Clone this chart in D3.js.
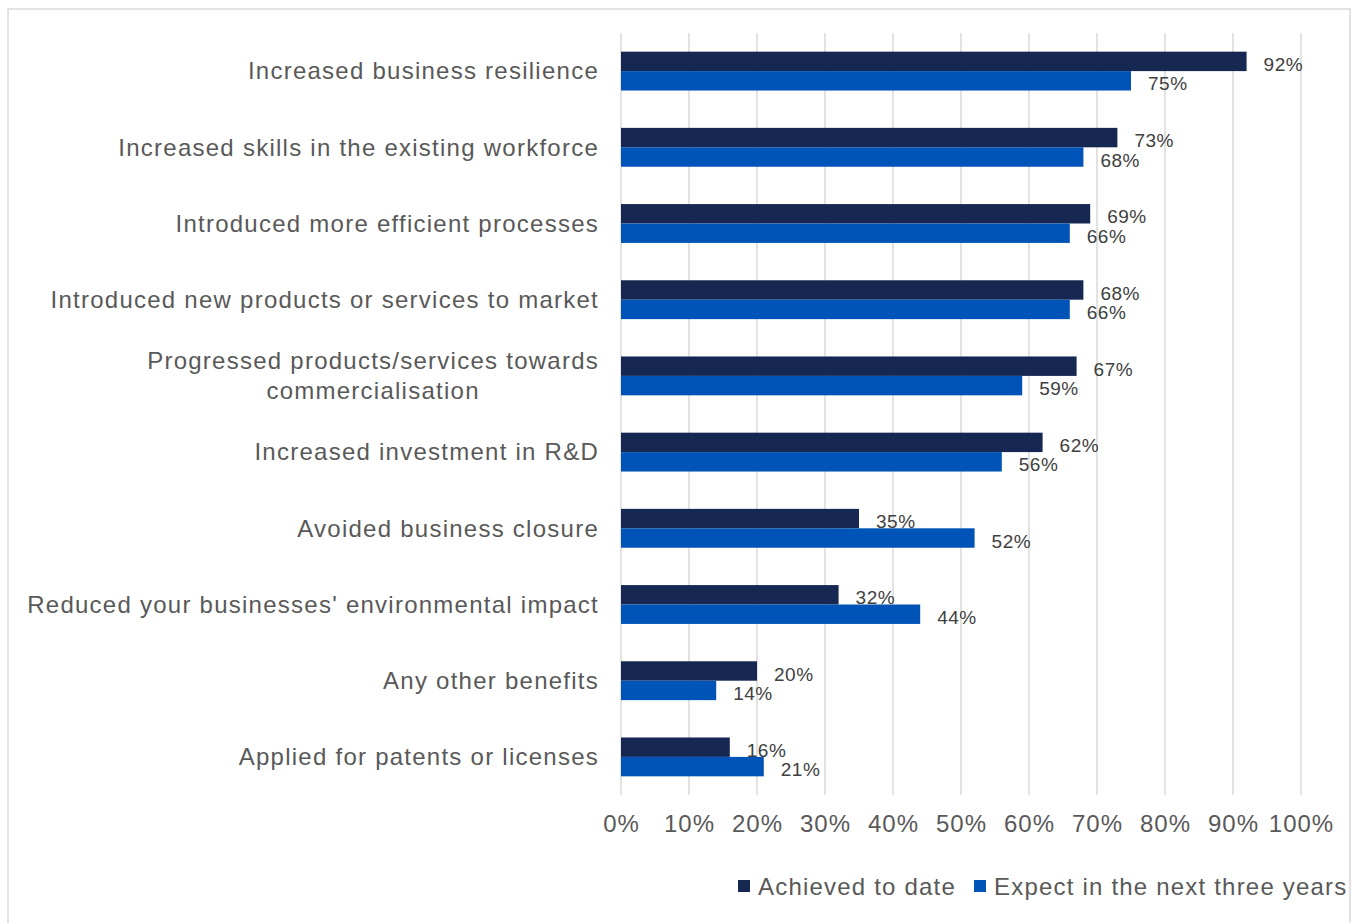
<!DOCTYPE html>
<html>
<head>
<meta charset="utf-8">
<script src="https://cdn.jsdelivr.net/npm/d3@7"></script>
<style>
  body { margin: 0; background: #fff; }
  text { font-family: "Liberation Sans", Arial, sans-serif; }
</style>
</head>
<body>
<script>
// Chart data
var categories = [
  "Increased business resilience",
  "Increased skills in the existing workforce",
  "Introduced more efficient processes",
  "Introduced new products or services to market",
  "Progressed products/services towards|commercialisation",
  "Increased investment in R&D",
  "Avoided business closure",
  "Reduced your businesses' environmental impact",
  "Any other benefits",
  "Applied for patents or licenses"
];
var achieved = [92, 73, 69, 68, 67, 62, 35, 32, 20, 16];
var expected = [75, 68, 66, 66, 59, 56, 52, 44, 14, 21];
var seriesNames = ["Achieved to date", "Expect in the next three years"];
var seriesColors = ["#162852", "#0054b7"];
var xTicks = [0, 10, 20, 30, 40, 50, 60, 70, 80, 90, 100];

var svgWidth = 1357;
var svgHeight = 923;

var margin = { top: 33, right: 56, bottom: 128, left: 621 };
var width = svgWidth - margin.left - margin.right;
var height = svgHeight - margin.top - margin.bottom;

var svg = d3.select("body")
  .append("svg")
  .attr("width", svgWidth)
  .attr("height", svgHeight);

// outer chart border
svg.append("rect")
  .attr("x", 8)
  .attr("y", 9)
  .attr("width", 1342)
  .attr("height", 930)
  .attr("fill", "none")
  .attr("stroke", "#d9d9d9")
  .attr("stroke-width", 1.5);

var chartGroup = svg.append("g")
  .attr("transform", `translate(${margin.left}, ${margin.top})`);

var x = d3.scaleLinear().domain([0, 100]).range([0, width]);
var y = d3.scaleBand()
  .domain(categories)
  .range([0, height])
  .paddingInner(0.49)
  .paddingOuter(0.245);
var bh = y.bandwidth() / 2;

// gridlines
chartGroup.selectAll(".grid")
  .data(xTicks)
  .enter().append("line")
  .attr("x1", d => x(d))
  .attr("x2", d => x(d))
  .attr("y1", 0)
  .attr("y2", height)
  .attr("stroke", "#d9d9d9")
  .attr("stroke-width", 1.5);

// x tick labels
var xAxis = chartGroup.append("g")
  .attr("transform", `translate(0, ${height})`)
  .call(d3.axisBottom(x).tickValues(xTicks).tickFormat(d => d + "%").tickSize(0).tickPadding(20));
xAxis.select(".domain").remove();
xAxis.selectAll("text")
  .attr("fill", "#595959")
  .style("font-size", "24px")
  .style("letter-spacing", "1px")
  .style("font-family", "Liberation Sans, Arial, sans-serif");

// bars
var rows = chartGroup.selectAll(".row")
  .data(categories)
  .enter().append("g")
  .attr("transform", d => `translate(0, ${y(d)})`);

[achieved, expected].forEach(function (vals, s) {
  rows.append("rect")
    .attr("x", 0)
    .attr("y", s * bh)
    .attr("width", (d, i) => x(vals[i]))
    .attr("height", bh)
    .attr("fill", seriesColors[s]);

  rows.append("text")
    .attr("x", (d, i) => x(vals[i]) + 17)
    .attr("y", s * bh + bh / 2 + 3)
    .attr("dy", "0.35em")
    .attr("fill", "#404040")
    .style("font-size", "19px")
    .style("letter-spacing", "0.5px")
    .text((d, i) => vals[i] + "%");
});

// category labels (right aligned, multi-line centred on each other)
rows.each(function (d) {
  var lines = d.split("|");
  var g = d3.select(this);
  var t = g.append("text")
    .attr("fill", "#595959")
    .style("font-size", "24px")
    .style("letter-spacing", "1.25px");
  var lh = 30;
  var cy = y.bandwidth() / 2;
  lines.forEach(function (l, i) {
    t.append("tspan")
      .attr("y", cy + (i - (lines.length - 1) / 2) * lh)
      .attr("dy", "0.35em")
      .text(l);
  });
  var maxW = 0;
  t.selectAll("tspan").each(function () {
    maxW = Math.max(maxW, this.getComputedTextLength());
  });
  t.attr("text-anchor", "middle");
  t.selectAll("tspan").attr("x", -22 - maxW / 2);
});

// legend
var legend = svg.append("g").attr("transform", "translate(738, 887)");
var lx = 0;
seriesNames.forEach(function (name, i) {
  legend.append("rect")
    .attr("x", lx)
    .attr("y", -7)
    .attr("width", 12)
    .attr("height", 12)
    .attr("fill", seriesColors[i]);
  var t = legend.append("text")
    .attr("x", lx + 20)
    .attr("y", 0)
    .attr("dy", "0.35em")
    .attr("fill", "#595959")
    .style("font-size", "24px")
    .style("letter-spacing", "1.2px")
    .text(name);
  lx += 20 + t.node().getComputedTextLength() + 18;
});
</script>
</body>
</html>
